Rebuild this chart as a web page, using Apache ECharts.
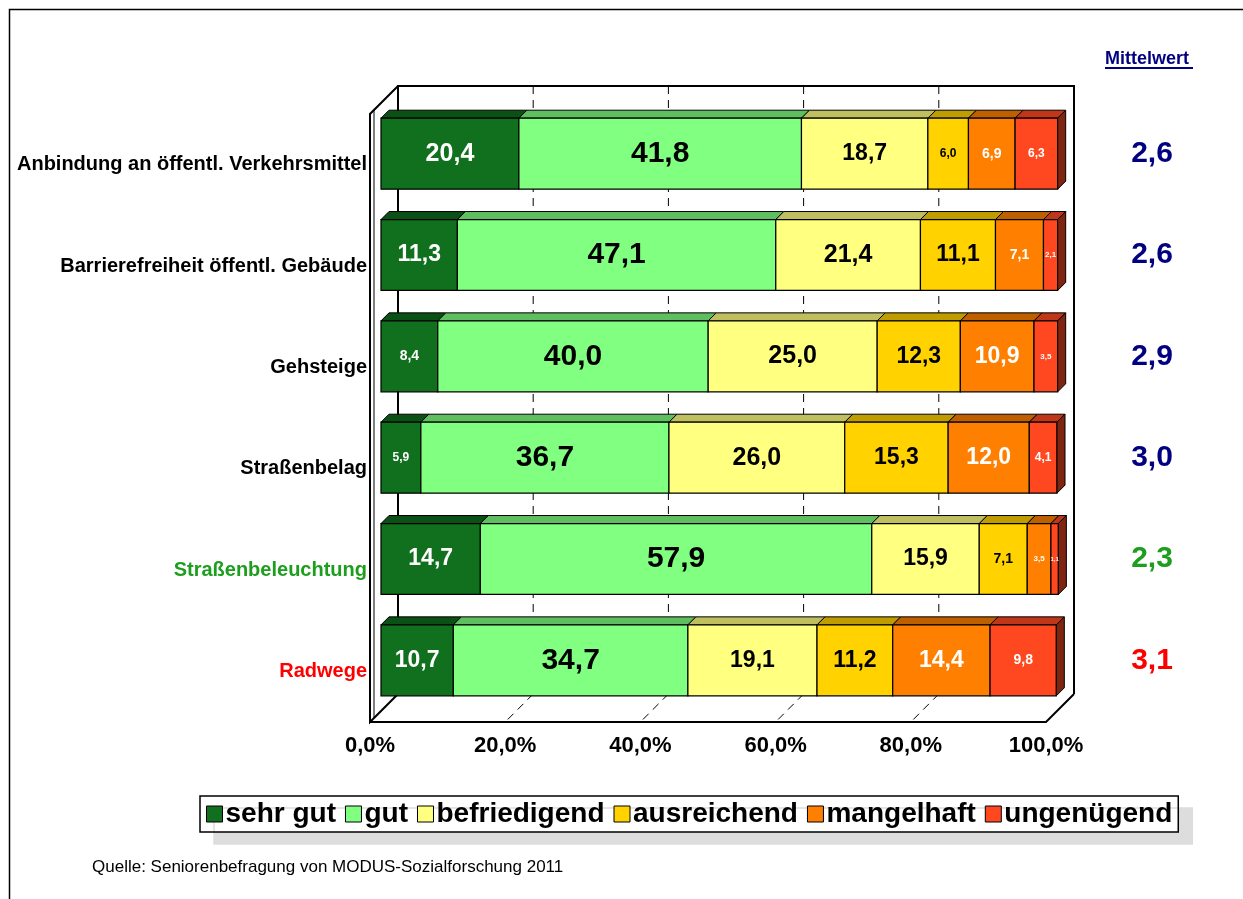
<!DOCTYPE html>
<html>
<head>
<meta charset="utf-8">
<script src="https://cdn.jsdelivr.net/npm/echarts@6/dist/echarts.min.js"></script>
<style>html,body{margin:0;padding:0;background:#fff}#c{width:1243px;height:899px}</style>
</head>
<body>
<div id="c"></div>
<script>
const categories = ['Anbindung an öffentl. Verkehrsmittel','Barrierefreiheit öffentl. Gebäude','Gehsteige','Straßenbelag','Straßenbeleuchtung','Radwege'];
const seriesNames = ['sehr gut','gut','befriedigend','ausreichend','mangelhaft','ungenügend'];
const sehrGut      = [20.4, 11.3,  8.4,  5.9, 14.7, 10.7];
const gut          = [41.8, 47.1, 40.0, 36.7, 57.9, 34.7];
const befriedigend = [18.7, 21.4, 25.0, 26.0, 15.9, 19.1];
const ausreichend  = [ 6.0, 11.1, 12.3, 15.3,  7.1, 11.2];
const mangelhaft   = [ 6.9,  7.1, 10.9, 12.0,  3.5, 14.4];
const ungenuegend  = [ 6.3,  2.1,  3.5,  4.1,  1.1,  9.8];
const mittelwert   = ['2,6','2,6','2,9','3,0','2,3','3,1'];
const xTicks = [0, 20, 40, 60, 80, 100];

const allValues = [sehrGut, gut, befriedigend, ausreichend, mangelhaft, ungenuegend];
const frontColors = ['#10701E','#80FF80','#FFFF80','#FFD200','#FF8000','#FF4820'];
const topColors   = ['#0B5015','#5FBF60','#BFBF60','#BF9D00','#BF6000','#BF3618'];
const sideColor   = '#7F2410';
const labelColors = ['#fff','#000','#000','#000','#fff','#fff'];
const catColors   = ['#000','#000','#000','#000','#1E9E1E','#FF0000'];
const meanColors  = ['#000080','#000080','#000080','#000080','#1E9E1E','#FF0000'];
const FONT = '"Liberation Sans", Arial, sans-serif';
const D = 8;          // bar depth
const BOXF = 11;      // box front offset
const BOXB = 17;      // box back offset

function fmt(v){ return v.toFixed(1).replace('.', ','); }
function labelSize(v){
  if (v >= 30) return 30;
  if (v >= 20) return 25;
  if (v >= 10) return 23;
  if (v >= 6.5) return 14;
  if (v >= 4) return 12;
  if (v >= 2) return 8;
  return 6;
}

const series = [];
// 3D box
series.push({
  type: 'custom', name: 'box', z: 1, silent: true,
  data: [[0, 0]],
  encode: { x: 0, y: 1 },
  renderItem: function(params, api){
    const cs = params.coordSys;
    const gx = cs.x, gy = cs.y, gw = cs.width, gh = cs.height;
    const fx = v => api.coord([v, 0])[0];
    const ls = { stroke: '#000', lineWidth: 2, fill: null };
    const children = [];
    const bTop = gy - BOXB, bBot = gy + gh - BOXB;
    const fTop = gy + BOXF, fBot = gy + gh + BOXF;
    for (const t of xTicks.slice(1, -1)) {
      const xb = fx(t) + BOXB, xf = fx(t) - BOXF;
      children.push({ type:'line', shape:{x1:xb,y1:bTop,x2:xb,y2:bBot}, style:{stroke:'#000',lineWidth:1,lineDash:[8,6]} });
      children.push({ type:'line', shape:{x1:xb,y1:bBot,x2:xf,y2:fBot}, style:{stroke:'#000',lineWidth:1,lineDash:[8,6]} });
    }
    children.push({ type:'polyline', shape:{points:[[fx(0)+BOXB,bBot],[fx(0)+BOXB,bTop],[fx(100)+BOXB,bTop],[fx(100)+BOXB,bBot]]}, style: ls });
    children.push({ type:'polyline', shape:{points:[[fx(0)+BOXB,bTop],[fx(0)-BOXF,fTop],[fx(0)-BOXF,fBot],[fx(0)+BOXB,bBot]]}, style: ls });
    children.push({ type:'line', shape:{x1:fx(0)-BOXF+4,y1:fTop-4,x2:fx(0)-BOXF+4,y2:fBot-4}, style:{stroke:'#000',lineWidth:1} });
    children.push({ type:'polyline', shape:{points:[[fx(0)-BOXF,fBot],[fx(100)-BOXF,fBot],[fx(100)+BOXB,bBot]]}, style: ls });
    return { type:'group', children };
  }
});

allValues.forEach(function(vals, si){
  const data = vals.map(function(v, ci){
    let start = 0;
    for (let k = 0; k < si; k++) start += allValues[k][ci];
    return [start, start + v, ci, v];
  });
  series.push({
    type: 'custom', name: seriesNames[si], z: 2,
    itemStyle: { color: frontColors[si] },
    data: data,
    encode: { x: [0, 1], y: 2 },
    renderItem: function(params, api){
      const ci = api.value(2), v = api.value(3);
      const s = api.coord([api.value(0), ci]);
      const e = api.coord([api.value(1), ci]);
      const h = api.size([0, 1])[1] * 0.70;
      const t = s[1] - h / 2, b = s[1] + h / 2;
      const x0 = s[0], x1 = e[0];
      const children = [
        { type:'polygon', shape:{points:[[x0,t],[x1,t],[x1+D,t-D],[x0+D,t-D]]}, style:{fill:topColors[si], stroke:'#000', lineWidth:1} },
        { type:'rect', shape:{x:x0,y:t,width:x1-x0,height:h}, style:{fill:frontColors[si], stroke:'#000', lineWidth:1.2} }
      ];
      if (si === allValues.length - 1) {
        children.push({ type:'polygon', shape:{points:[[x1,t],[x1+D,t-D],[x1+D,b-D],[x1,b]]}, style:{fill:sideColor, stroke:'#000', lineWidth:1} });
      }
      children.push({ type:'text', style:{ text: fmt(v), x:(x0+x1)/2, y:s[1], align:'center', verticalAlign:'middle',
        fill: labelColors[si], fontSize: labelSize(v), fontWeight:'bold', fontFamily: FONT } });
      return { type:'group', children };
    }
  });
});

const hidden = { axisLine: { show: false }, axisTick: { show: false }, splitLine: { show: false } };
const chart = echarts.init(document.getElementById('c'), null, { renderer: 'canvas' });
chart.setOption({
  animation: false,
  backgroundColor: '#fff',
  textStyle: { fontFamily: FONT },
  color: frontColors,
  grid: [
    { left: 381, right: 186, top: 103, bottom: 188 },
    { left: 370, right: 197, top: 114, bottom: 177 }
  ],
  xAxis: [
    Object.assign({ type: 'value', min: 0, max: 100, interval: 20, gridIndex: 0, axisLabel: { show: false } }, hidden),
    Object.assign({ type: 'value', min: 0, max: 100, interval: 20, gridIndex: 1,
      axisLabel: { formatter: v => fmt(v) + '%', fontSize: 22, fontWeight: 'bold', color: '#000', margin: 13, fontFamily: FONT } }, hidden)
  ],
  yAxis: [
    Object.assign({ type: 'category', inverse: true, data: categories, gridIndex: 0, axisLabel: { show: false } }, hidden),
    Object.assign({ type: 'category', inverse: true, data: mittelwert, position: 'right', gridIndex: 0,
      axisLabel: { fontSize: 30, fontWeight: 'bold', margin: 95, align: 'center', padding: [0, 0, 6, 0], fontFamily: FONT,
        color: (val, idx) => meanColors[idx] } }, hidden),
    Object.assign({ type: 'category', inverse: true, data: categories, gridIndex: 1,
      axisLabel: { fontSize: 20, fontWeight: 'bold', margin: 3, fontFamily: FONT,
        color: (val, idx) => catColors[idx] } }, hidden)
  ],
  legend: {
    data: seriesNames.map(n => ({ name: n, icon: 'rect' })),
    left: 200, top: 796,
    itemWidth: 16, itemHeight: 16, itemGap: 9,
    padding: [4, 6, 4, 6],
    backgroundColor: '#fff', borderColor: '#000', borderWidth: 1.5,
    shadowColor: '#DDDDDD', shadowBlur: 0, shadowOffsetX: 14, shadowOffsetY: 12,
    itemStyle: { borderColor: '#000', borderWidth: 1 },
    textStyle: { fontSize: 28, fontWeight: 'bold', color: '#000', padding: [0, 0, 0, -2], fontFamily: FONT }
  },
  graphic: [
    { type: 'rect', left: 7, top: 7, shape: { width: 1240, height: 900 }, style: { fill: null, stroke: '#000', lineWidth: 1.5 }, silent: true },
    { type: 'text', left: 1105, top: 50, style: { text: 'Mittelwert', fill: '#000080', fontSize: 18, fontWeight: 'bold', fontFamily: FONT } },
    { type: 'rect', left: 1105, top: 67, shape: { width: 88, height: 2 }, style: { fill: '#000080' } },
    { type: 'text', left: 92, top: 859, style: { text: 'Quelle: Seniorenbefragung von MODUS-Sozialforschung 2011', fill: '#000', fontSize: 17, fontFamily: FONT } }
  ],
  series: series
});
</script>
</body>
</html>
